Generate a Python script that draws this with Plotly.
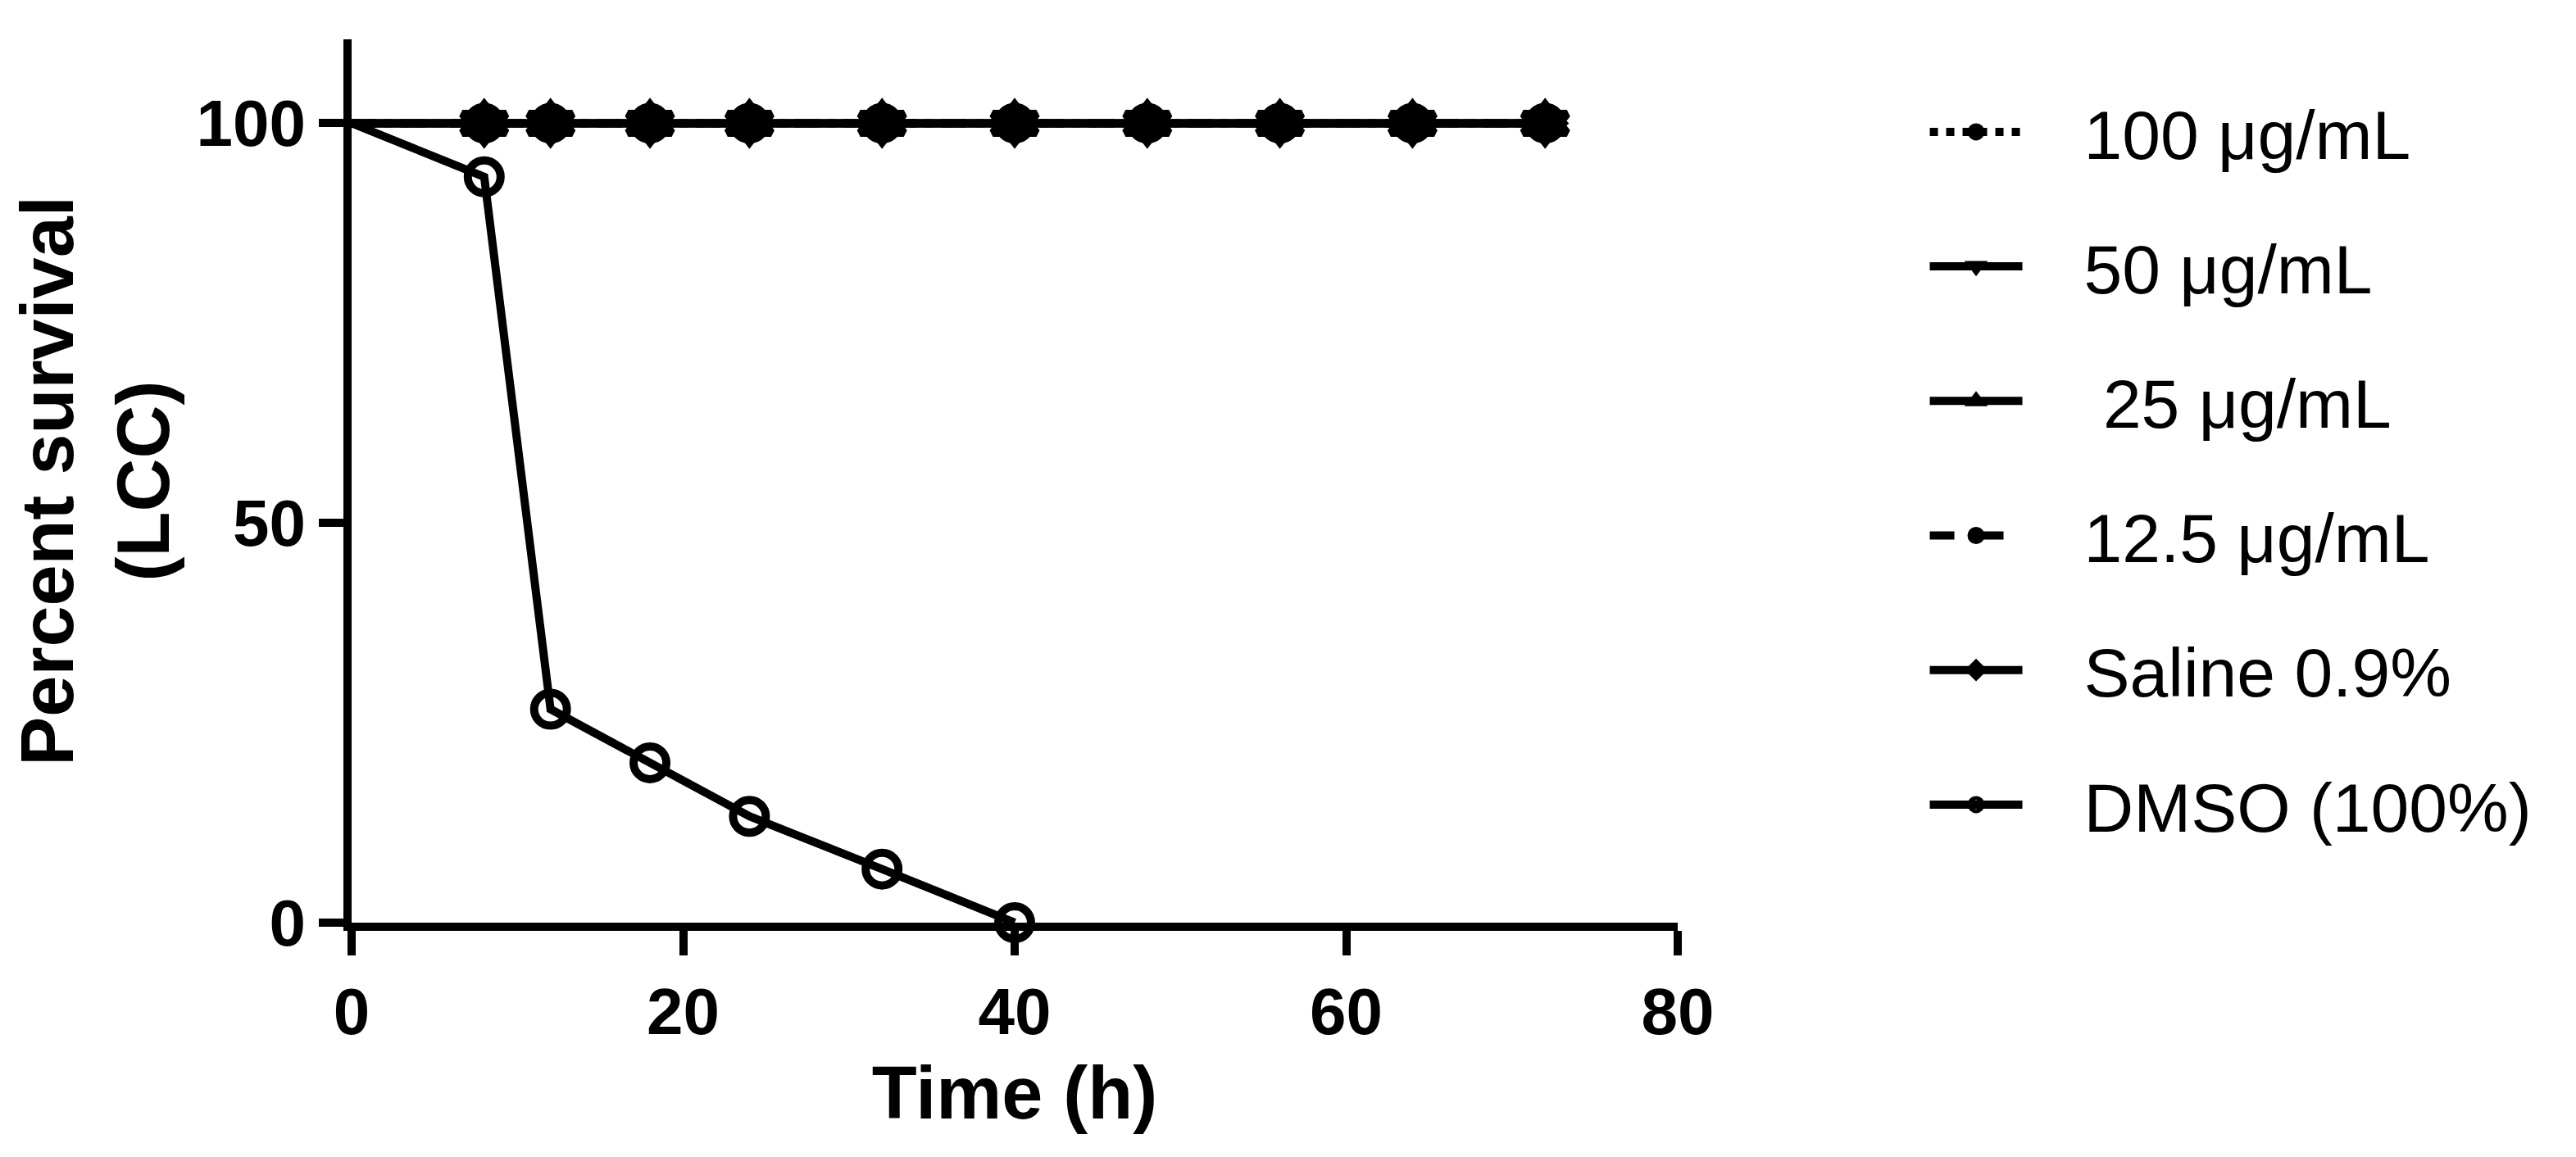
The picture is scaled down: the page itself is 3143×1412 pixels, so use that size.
import plotly.graph_objects as go

# survival data (percent)
time_h = [0, 8, 12, 18, 24, 32, 40, 48, 56, 64, 72]
surv_100 = [100, 100, 100, 100, 100, 100, 100, 100, 100, 100, 100]
surv_50 = [100, 100, 100, 100, 100, 100, 100, 100, 100, 100, 100]
surv_25 = [100, 100, 100, 100, 100, 100, 100, 100, 100, 100, 100]
surv_12_5 = [100, 100, 100, 100, 100, 100, 100, 100, 100, 100, 100]
surv_saline = [100, 100, 100, 100, 100, 100, 100, 100, 100, 100, 100]
time_dmso = [0, 8, 12, 18, 24, 32, 40]
surv_dmso = [100, 93.3, 26.7, 20, 13.3, 6.7, 0]

labels = ["100 μg/mL", "50 μg/mL", "\u00a025 μg/mL", "12.5 μg/mL", "Saline 0.9%", "DMSO (100%)"]

series = [
    (time_h, surv_100, labels[0], "circle", 26, "dot"),
    (time_h, surv_50, labels[1], "triangle-down-open", 46, "solid"),
    (time_h, surv_25, labels[2], "triangle-up-open", 46, "solid"),
    (time_h, surv_12_5, labels[3], "circle", 40, "dash"),
    (time_h, surv_saline, labels[4], "diamond", 34, "solid"),
    (time_dmso, surv_dmso, labels[5], "circle-open", 40, "solid"),
]

pad = "\u00a0\u00a0\u00a0"

fig = go.Figure()
for i, (x, y, name, sym, size, dash) in enumerate(series):
    # no marker at time zero, like the original survival plot
    sizes = [0] + [size] * (len(x) - 1)
    fig.add_trace(go.Scatter(
        x=x, y=y, name=pad + name, mode="lines+markers",
        line=dict(color="black", width=10, dash=dash),
        marker=dict(symbol=sym, size=sizes, color="black", opacity=1,
                    line=dict(color="black", width=10)),
        cliponaxis=False, legendgroup="g%d" % i,
    ))

fig.update_layout(
    width=3143, height=1412,
    plot_bgcolor="white", paper_bgcolor="white",
    margin=dict(l=421, r=1104, t=40, b=294),
    font=dict(family="Liberation Sans, Arial, sans-serif", color="black"),
    legend=dict(
        xref="container", yref="container", x=0.745, y=0.935,
        xanchor="left", yanchor="top",
        font=dict(size=84, family="Liberation Sans, Arial, sans-serif"),
        itemwidth=113, tracegroupgap=52, bgcolor="rgba(0,0,0,0)",
        maxheight=1400,
    ),
    xaxis=dict(
        range=[0, 80], tickvals=[0, 20, 40, 60, 80],
        showline=True, linewidth=10, linecolor="black",
        ticks="outside", ticklen=30, tickwidth=10, tickcolor="black",
        showgrid=False, zeroline=False,
        tickfont=dict(size=80, weight="bold"),
        title=dict(text="Time (h)", font=dict(size=90, weight="bold"), standoff=28),
    ),
    yaxis=dict(
        range=[0, 110.5], tickvals=[0, 50, 100],
        showline=True, linewidth=10, linecolor="black",
        ticks="outside", ticklen=30, tickwidth=10, tickcolor="black",
        showgrid=False, zeroline=False,
        tickfont=dict(size=80, weight="bold"),
        title=dict(text="Percent survival<br>(LCC)", font=dict(size=90, weight="bold"), standoff=20),
    ),
)

fig.write_html("out.html")
